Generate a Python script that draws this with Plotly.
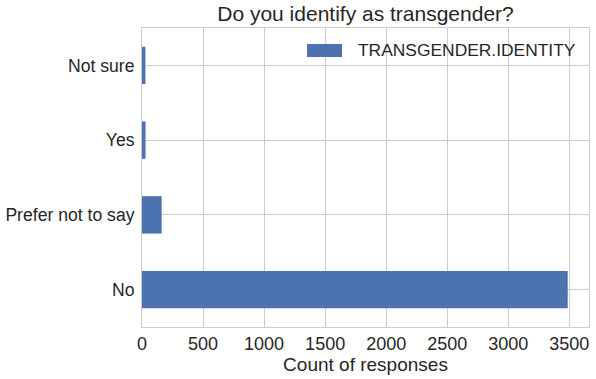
import plotly.graph_objects as go

categories = ["No", "Prefer not to say", "Yes", "Not sure"]
counts = [3487, 161, 29, 28]
series_name = "TRANSGENDER.IDENTITY"
x_ticks = [0, 500, 1000, 1500, 2000, 2500, 3000, 3500]

FONT = "Liberation Sans, Arial, sans-serif"
TXT = "#262626"
GRID = "#cccccc"
BAR = "#4C72B0"

L, R, T, B = 142, 589, 28, 327
W, H = 596, 379
TICK = 17.6

fig = go.Figure()
fig.add_trace(go.Bar(
    y=list(range(len(categories))), x=counts, orientation="h",
    width=0.5, marker=dict(color=BAR, line=dict(width=0)),
    name=series_name, showlegend=False,
))

fig.update_layout(
    width=W, height=H,
    margin=dict(l=L, r=W - R, t=T, b=H - B, autoexpand=False),
    paper_bgcolor="white", plot_bgcolor="white",
    font=dict(family=FONT, color=TXT, size=TICK),
    title=dict(text="Do you identify as transgender?", x=(L + R) / 2 / W, xanchor="center",
               y=1 - 14 / H, yanchor="middle", font=dict(size=21, color=TXT)),
)
fig.update_xaxes(
    range=[0, max(counts) * 1.05], tickvals=x_ticks, ticktext=[str(v) for v in x_ticks],
    showgrid=True, gridcolor=GRID, gridwidth=1, zeroline=False,
    showline=True, linecolor=GRID, linewidth=1, mirror=True,
    ticks="", ticklen=0, tickfont=dict(size=18, color=TXT), automargin=False,
    title=dict(text="Count of responses", font=dict(size=19, color=TXT), standoff=3),
)
fig.update_yaxes(
    range=[-0.5, len(categories) - 0.5],
    tickvals=list(range(len(categories))), ticktext=categories,
    showgrid=True, gridcolor=GRID, gridwidth=1, zeroline=False,
    showline=True, linecolor=GRID, linewidth=1, mirror=True,
    ticks="", ticklen=0, ticklabelstandoff=3, tickfont=dict(size=TICK, color=TXT),
    automargin=False,
)

# legend drawn manually (matplotlib-style wide patch)
pw, ph = R - L, B - T
fig.add_shape(type="rect", xref="paper", yref="paper",
              x0=(307 - L) / pw, x1=(342 - L) / pw,
              y0=(B - 57) / ph, y1=(B - 44) / ph,
              fillcolor=BAR, line=dict(width=0))
fig.add_annotation(xref="paper", yref="paper",
                   x=(356 - L) / pw, y=(B - 50.5) / ph,
                   xanchor="left", yanchor="middle", showarrow=False,
                   text=series_name, font=dict(size=17.4, color=TXT))

fig.write_html("out.html")
